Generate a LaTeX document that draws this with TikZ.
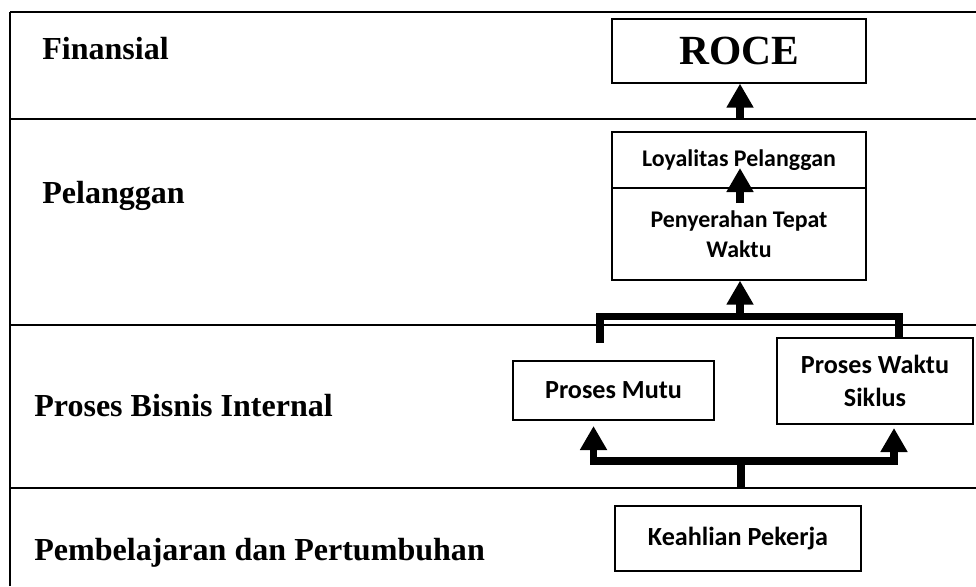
\documentclass[tikz,border=0pt]{standalone}
\usepackage{fontspec}
\setmainfont{Liberation Serif}
\newfontfamily\boxfont{Carlito}
\usetikzlibrary{arrows.meta}
\tikzset{
  bsrule/.style={line width=1.1pt, draw=black},
  bstop/.style={line width=1.8pt, draw=black},
  bslabel/.style={anchor=base west, inner sep=0pt, font=\bfseries\fontsize{22.8}{26}\selectfont},
  bsbox/.style={draw=black, line width=0.9pt, inner sep=0pt, align=center, font=\boxfont\bfseries\fontsize{18.6}{23.5}\selectfont},
  bssmall/.style={font=\boxfont\bfseries\fontsize{17}{21.3}\selectfont},
  bsbar/.style={line width=5.4pt, draw=black, line cap=butt, line join=miter},
  bsarrow/.style={bsbar, -{Triangle[length=0.6cm,width=0.64cm]}},
}
\begin{document}
\begin{tikzpicture}
\useasboundingbox (0,0) rectangle (24.4,14.65);
% lanes
\draw[bsrule] (0.250,0.000) -- (0.250,14.350);
\draw[bstop] (0.250,14.350) -- (24.400,14.350);
\draw[bsrule] (0.250,11.675) -- (24.400,11.675);
\draw[bsrule] (0.250,6.525) -- (24.400,6.525);
\draw[bsrule] (0.250,2.450) -- (24.400,2.450);
% lane labels
\node[bslabel] (finansial) at (1.050,13.175) {Finansial};
\node[bslabel] (pelanggan) at (1.050,9.575) {Pelanggan};
\node[bslabel] (internal) at (0.850,4.250) {Proses Bisnis Internal};
\node[bslabel] (tumbuh) at (0.850,0.650) {Pembelajaran dan Pertumbuhan};
% boxes
\node[bsbox, minimum width=6.35cm, minimum height=1.6cm, font=\bfseries\fontsize{29.5}{32}\selectfont] (roce) at (18.475,13.375) {ROCE};
\node[bsbox, bssmall, minimum width=6.35cm, minimum height=1.4cm] (loyal) at (18.475,10.650) {Loyalitas Pelanggan};
\node[bsbox, bssmall, minimum width=6.35cm, minimum height=2.3cm] (tepat) at (18.475,8.800) {Penyerahan Tepat\\Waktu};
\node[bsbox, minimum width=5.025cm, minimum height=1.475cm] (mutu) at (15.338,4.888) {Proses Mutu};
\node[bsbox, minimum width=4.9cm, minimum height=2.15cm] (siklus) at (21.875,5.125) {Proses Waktu\\Siklus};
\node[bsbox, minimum width=6.15cm, minimum height=1.625cm] (keahlian) at (18.450,1.188) {Keahlian Pekerja};
% junctions
\coordinate (finbase) at (18.500,11.675);
\coordinate (plgbase) at (18.500,9.575);
\coordinate (plgtip) at (18.500,10.450);
\coordinate (upjoin) at (18.500,6.738);
\coordinate (upleft) at (15.000,6.075);
\coordinate (upright) at (22.475,6.175);
\coordinate (lobase) at (18.525,2.450);
\coordinate (lojoin) at (18.525,3.125);
\coordinate (mututip) at (14.838,4.000);
\coordinate (siklustip) at (22.350,3.950);
% arrows
\draw[bsarrow] (finbase) -- (finbase |- roce.south);
\draw[bsarrow] (plgbase) -- (plgtip);
\draw[bsbar] (upleft) -- (upleft |- upjoin) -- (upright |- upjoin) -- (upright);
\draw[bsarrow] (upjoin) -- (upjoin |- tepat.south);
\draw[bsbar] (lobase) -- (lojoin);
\draw[bsarrow] (lojoin) -| (mututip);
\draw[bsarrow] (lojoin) -| (siklustip);
\end{tikzpicture}
\end{document}
